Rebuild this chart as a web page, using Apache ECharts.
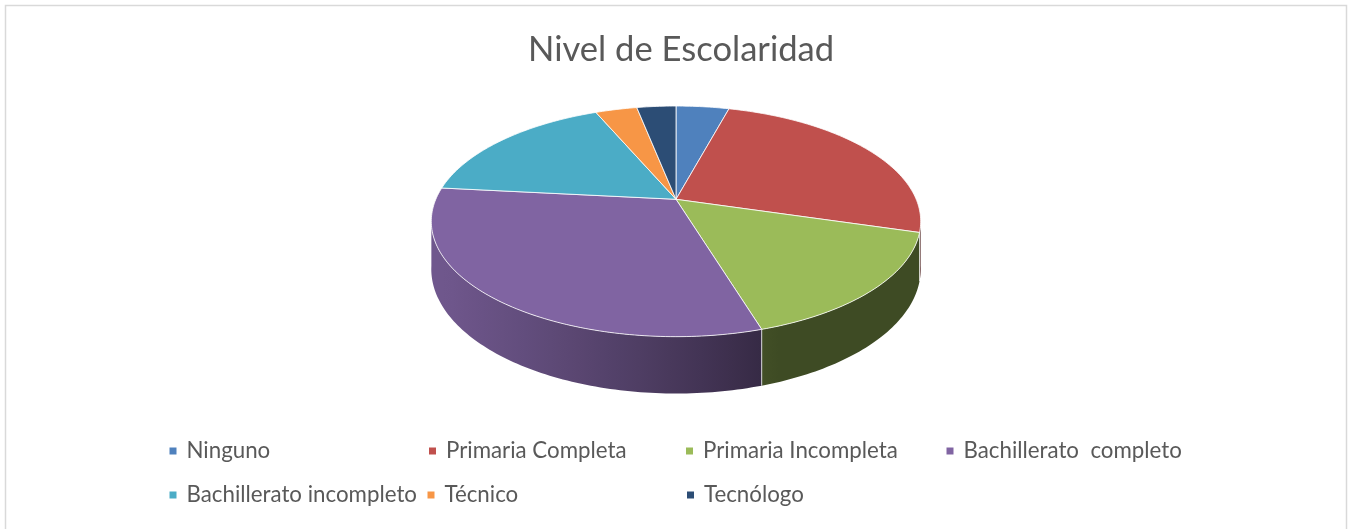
<!DOCTYPE html>
<html><head><meta charset="utf-8">
<script src="https://cdn.jsdelivr.net/npm/echarts/dist/echarts.min.js"></script>
<style>html,body{margin:0;padding:0;background:#fff}#c{width:1349px;height:529px}</style>
</head><body><div id="c"></div>
<script>
// ---- data ----
const titleText = 'Nivel de Escolaridad';
const categories = ['Ninguno', 'Primaria Completa', 'Primaria Incompleta', 'Bachillerato  completo', 'Bachillerato incompleto', 'Técnico', 'Tecnólogo'];
const values = [4.2, 25.3, 15.7, 31.3, 16.9, 3.3, 3.1];
const colors = ['#4f81bd', '#c0504d', '#9bbb59', '#8064a2', '#4bacc6', '#f79646', '#2c4d75'];

// ---- geometry (perspective 3D pie) ----
const total = values.reduce((a, b) => a + b, 0);
const starts = []; let acc = 0;
values.forEach(v => { starts.push(acc / total * 2 * Math.PI); acc += v; });
const P = { cx: 676, cy: 199.3, A: 240.2, B: 111.1, d: 5.231, H: 46 };
function proj(t, h) {
  const f = -Math.cos(t); const s = P.d / (P.d - f);
  return [P.cx + P.A * Math.sin(t) * s, P.cy + P.B * f * s + P.H * s * h];
}
function arcPts(a0, a1, h) {
  const n = Math.max(2, Math.ceil((a1 - a0) / (Math.PI / 180)));
  const pts = [];
  for (let i = 0; i <= n; i++) pts.push(proj(a0 + (a1 - a0) * i / n, h));
  return pts;
}
const L0 = 99.5 * Math.PI / 180, L1 = 260.5 * Math.PI / 180;
function shadeFactor(t) { return 0.4 + 0.47 * Math.max(0, Math.cos(t - 250 * Math.PI / 180)); }
function shade(hex, k) {
  const n = parseInt(hex.slice(1), 16);
  const r = Math.round(((n >> 16) & 255) * k), g = Math.round(((n >> 8) & 255) * k), b = Math.round((n & 255) * k);
  return 'rgb(' + r + ',' + g + ',' + b + ')';
}

function renderTop(params, api) {
  const i = params.dataIndex; const v = api.value(0);
  const a0 = starts[i], a1 = a0 + v / total * 2 * Math.PI;
  const pts = [[P.cx, P.cy]].concat(arcPts(a0, a1, 0));
  return { type: 'polygon', shape: { points: pts }, style: { fill: colors[i], stroke: 'rgba(255,255,255,0.8)', lineWidth: 1 } };
}
function renderWall(params, api) {
  const i = params.dataIndex; const v = api.value(0);
  const a0 = starts[i], a1 = a0 + v / total * 2 * Math.PI;
  const t0 = Math.max(a0, L0), t1 = Math.min(a1, L1);
  if (t1 <= t0) return null;
  const top = arcPts(t0, t1, 0), bot = arcPts(t0, t1, 1).reverse();
  const pts = top.concat(bot);
  const xs = pts.map(p => p[0]);
  const xmin = Math.min.apply(null, xs), xmax = Math.max.apply(null, xs);
  const stops = [];
  for (let k = 0; k <= 16; k++) {
    const t = t0 + (t1 - t0) * k / 16;
    const x = proj(t, 0)[0];
    stops.push({ offset: Math.min(1, Math.max(0, (x - xmin) / (xmax - xmin))), color: shade(colors[i], shadeFactor(t)) });
  }
  stops.sort((a, b) => a.offset - b.offset);
  const children = [{ type: 'polygon', shape: { points: pts }, style: { fill: new echarts.graphic.LinearGradient(0, 0, 1, 0, stops) } }];
  if (a0 > L0 && a0 < L1) {
    const p0 = proj(a0, 0), p1 = proj(a0, 1);
    children.push({ type: 'line', shape: { x1: p0[0], y1: p0[1], x2: p1[0], y2: p1[1] }, style: { stroke: 'rgba(255,255,255,0.75)', lineWidth: 1 } });
  }
  return { type: 'group', children: children };
}

// legend layout
const legendPos = [[173, 451], [432.5, 451], [689.5, 451], [950, 451], [173, 495], [431, 495], [690.5, 495]];
const legends = categories.map((c, i) => ({
  data: [c], left: legendPos[i][0] - 3.5, top: legendPos[i][1] - 13, padding: 0,
  icon: 'rect', itemWidth: 7, itemHeight: 7, selectedMode: false,
  textStyle: { fontFamily: 'Lato', fontSize: 22.3, color: '#595959', lineHeight: 26, padding: [0, 0, 0, 5] }
}));

const chart = echarts.init(document.getElementById('c'), null, { renderer: 'canvas' });
chart.setOption({
  animation: false,
  title: { text: titleText, left: 528, top: 32, padding: 0, textStyle: { fontFamily: 'Lato', fontSize: 34.6, fontWeight: 'normal', color: '#595959' } },
  legend: legends,
  graphic: [{ type: 'rect', shape: { x: 5.5, y: 5.5, width: 1341, height: 600 }, style: { fill: 'none', stroke: '#d9d9d9', lineWidth: 1.5 }, silent: true }],
  series: [
    { type: 'pie', name: 'legendProxy', center: [-300, -300], radius: 1, silent: true, label: { show: false }, labelLine: { show: false },
      data: categories.map((c, i) => ({ name: c, value: values[i], itemStyle: { color: colors[i] } })) },
    { type: 'custom', name: 'walls', coordinateSystem: 'none', z: 2, silent: true, data: values, renderItem: renderWall },
    { type: 'custom', name: 'tops', coordinateSystem: 'none', z: 3, silent: true, data: values, renderItem: renderTop }
  ]
});
</script></body></html>
